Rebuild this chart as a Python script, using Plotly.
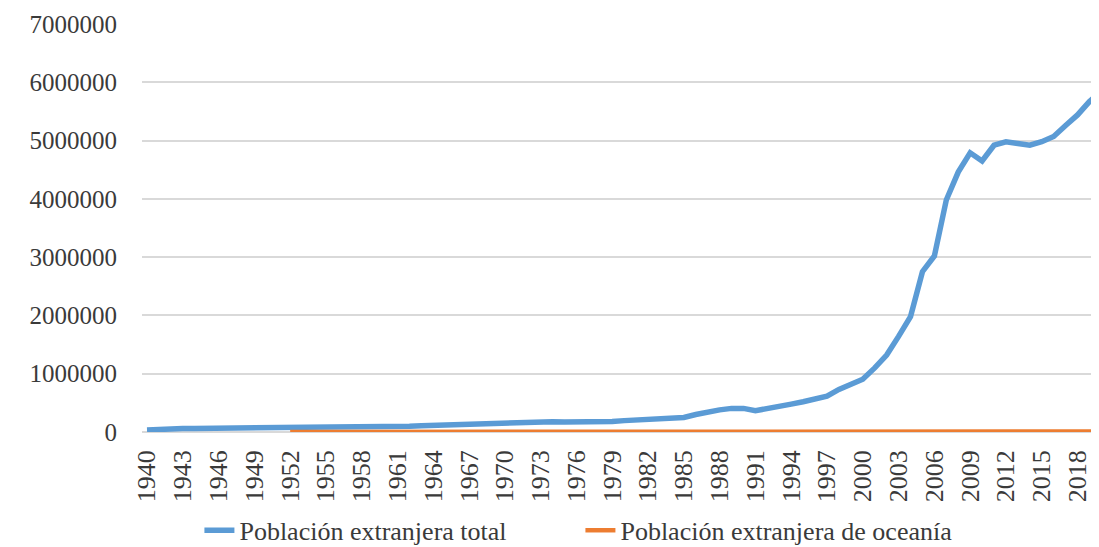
import plotly.graph_objects as go

years = list(range(1940, 2021))

total = [
    35000, 50000, 55000, 60000, 62000, 63000, 65000, 67000, 68000, 70000,   # 1940-1949
    72000, 75000, 78000, 80000, 82000, 84000, 85000, 83000, 85000, 87000,   # 1950-1959
    90000, 95000, 100000, 108000, 115000, 122000, 135000, 145000, 152000, 158000,  # 1960-1969
    165000, 170000, 175000, 182000, 178000, 170000, 168000, 172000, 170000, 180000,  # 1970-1979
    195000, 205000, 212000, 225000, 235000, 250000, 300000, 350000, 380000, 405000,  # 1980-1989
    405000, 365000, 395000, 435000, 478000, 520000, 560000, 615000, 730000, 820000,  # 1990-1999
    905000, 1100000, 1320000, 1640000, 1980000, 2750000, 3020000, 3980000, 4460000, 4790000,  # 2000-2009
    4650000, 4920000, 4980000, 4950000, 4920000, 4980000, 5070000, 5260000, 5440000, 5670000,  # 2010-2019
    5850000,  # 2020
]

oceania_years = list(range(1952, 2021))
oceania = [
    600, 650, 700, 700, 750, 800, 800, 850, 900, 950,
    1000, 1000, 1100, 1100, 1200, 1300, 1300, 1400, 1500, 1500,
    1600, 1600, 1700, 1700, 1700, 1800, 1800, 1900, 2000, 2000,
    2100, 2200, 2300, 2400, 2600, 2800, 2900, 3000, 3000, 3100,
    3200, 3300, 3400, 3500, 3600, 3800, 4000, 4300, 4600, 5000,
    5400, 5800, 6500, 7000, 7500, 8000, 8200, 8300, 8400, 8300,
    8200, 8100, 8000, 8100, 8200, 8300, 8400, 8500, 8600,
]

ytick_vals = [0, 1000000, 2000000, 3000000, 4000000, 5000000, 6000000, 7000000]
ytick_text = ["0", "1000000", "2000000", "3000000", "4000000", "5000000", "6000000", "7000000"]
xtick_vals = list(range(1940, 2019, 3))

FONT = "Liberation Serif"
TXT = "#3a3a3a"

fig = go.Figure()
fig.add_trace(go.Scatter(
    x=years, y=total, mode="lines", name="Población extranjera total",
    line=dict(color="#5B9BD5", width=5.5), cliponaxis=True,
))
fig.add_trace(go.Scatter(
    x=oceania_years, y=oceania, mode="lines", name="Población extranjera de oceanía",
    line=dict(color="#ED7D31", width=4.5), cliponaxis=True,
))

# page body has an 8px margin, so the figure is sized to fit the window
fig.update_layout(
    width=1091, height=539,
    margin=dict(l=134, r=0, t=16, b=115, autoexpand=False),
    paper_bgcolor="white", plot_bgcolor="white",
    font=dict(family=FONT, size=24, color=TXT),
    showlegend=True,
    legend=dict(
        orientation="h", x=0.060, xanchor="left", y=-0.241, yanchor="middle",
        font=dict(family=FONT, size=26, color=TXT),
        entrywidth=336, entrywidthmode="pixels",
        itemwidth=30, bgcolor="rgba(0,0,0,0)",
    ),
)
fig.update_xaxes(
    range=[1939.58, 2019.8],
    tickmode="array", tickvals=xtick_vals, ticktext=[str(v) for v in xtick_vals],
    tickangle=-90, showgrid=False, zeroline=False, showline=False,
    ticks="", ticklabelstandoff=12, automargin=False,
    tickfont=dict(family=FONT, size=26, color=TXT),
)
fig.update_yaxes(
    range=[0, 7000000],
    tickmode="array", tickvals=ytick_vals, ticktext=ytick_text,
    showgrid=True, gridcolor="#D9D9D9", gridwidth=2,
    zeroline=True, zerolinecolor="#D9D9D9", zerolinewidth=2,
    showline=False, ticks="", ticklabelstandoff=24, automargin=False,
    tickfont=dict(family=FONT, size=25, color=TXT),
)

fig.write_html("out.html")
